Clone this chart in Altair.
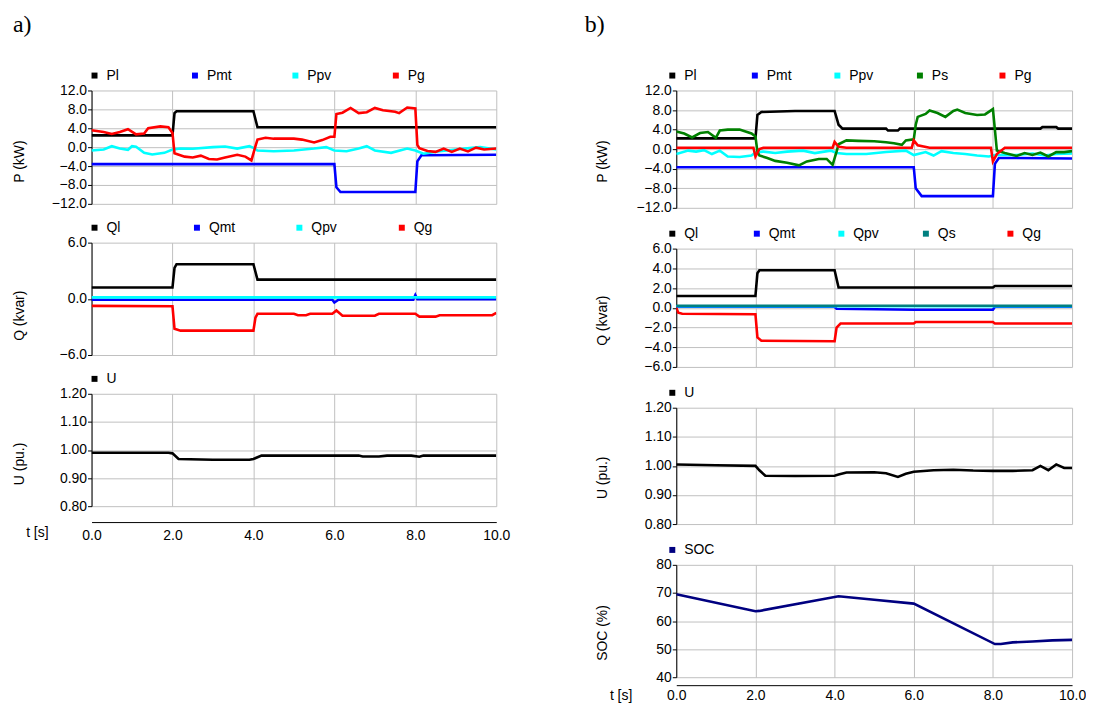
import altair as alt
import pandas as pd

FONT = "Liberation Sans"
XTICKS = [0, 2, 4, 6, 8, 10]

# ---------------- a) left column ----------------
a_Pl_t = [0, 2.0, 2.05, 2.1, 4.0, 4.1, 10]
a_Pl_v = [2.5, 2.5, 7.2, 7.6, 7.6, 4.2, 4.2]
a_Pmt_t = [0, 6.0, 6.05, 6.15, 8.0, 8.05, 8.15, 10]
a_Pmt_v = [-3.6, -3.6, -8.5, -9.5, -9.5, -3.0, -1.7, -1.6]
a_Ppv_t = [0, 0.3, 0.5, 0.7, 0.9, 1.0, 1.1, 1.3, 1.5, 1.8, 2.0, 2.2, 2.5, 3.0, 3.3, 3.6, 3.9, 4.0, 4.1,
           4.5, 5.0, 5.5, 5.8, 6.0, 6.3, 6.6, 6.8, 7.0, 7.4, 7.8, 8.0, 8.2, 8.6, 9.0, 9.4, 9.6, 10]
a_Ppv_v = [-0.7, -0.5, 0.2, -0.3, -0.55, 0.2, 0.1, -1.2, -1.55, -1.2, -0.5, -0.3, -0.35, 0.0, 0.15, -0.3, 0.2,
           -0.15, -0.7, -0.85, -0.7, -0.3, 0.0, -0.7, -0.85, -0.3, 0.2, -0.7, -1.2, -0.3, -0.7, -1.4, -0.85,
           -0.5, -0.15, 0.0, -0.5]
a_Pg_t = [0, 0.3, 0.5, 0.7, 0.9, 1.1, 1.3, 1.4, 1.7, 1.9, 2.0, 2.05, 2.3, 2.5, 2.7, 2.9, 3.1, 3.3, 3.6, 3.8,
          3.95, 4.05, 4.1, 4.3, 4.5, 5.0, 5.2, 5.5, 5.7, 5.9, 6.0, 6.05, 6.2, 6.4, 6.6, 6.8, 7.0, 7.2, 7.5,
          7.6, 7.8, 8.0, 8.05, 8.1, 8.3, 8.5, 8.7, 8.9, 9.1, 9.3, 9.5, 9.7, 10]
a_Pg_v = [3.6, 3.2, 2.8, 3.2, 3.8, 2.7, 2.9, 4.0, 4.4, 4.2, 3.0, -1.3, -2.0, -2.2, -1.8, -2.5, -2.6, -2.2,
          -1.6, -2.0, -2.8, 0.2, 1.6, 2.0, 1.8, 1.8, 1.6, 1.0, 1.5, 2.2, 2.2, 7.0, 7.3, 8.3, 7.2, 7.4, 8.3,
          7.8, 7.5, 7.2, 8.4, 8.2, 0.5, -0.2, -0.8, -1.0, -0.3, -1.0, -0.3, -0.9, -0.1, -0.5, -0.3]

a_Ql_t = [0, 2.0, 2.05, 2.1, 4.0, 4.1, 10]
a_Ql_v = [1.2, 1.2, 3.3, 3.7, 3.7, 2.05, 2.05]
a_Qmt_t = [0, 5.95, 6.0, 6.1, 7.95, 8.0, 8.05, 10]
a_Qmt_v = [-0.1, -0.1, -0.4, -0.1, -0.1, 0.4, -0.05, -0.05]
a_Qpv_t = [0, 10]
a_Qpv_v = [0.15, 0.15]
a_Qg_t = [0, 2.0, 2.05, 2.2, 4.0, 4.05, 4.1, 5.0, 5.1, 5.3, 5.4, 5.95, 6.05, 6.2, 7.0, 7.1, 8.0, 8.1, 8.5,
          8.6, 9.9, 10]
a_Qg_v = [-0.75, -0.8, -3.2, -3.4, -3.4, -2.0, -1.6, -1.6, -1.75, -1.75, -1.6, -1.6, -1.25, -1.8, -1.8,
          -1.6, -1.6, -1.9, -1.9, -1.75, -1.75, -1.5]

a_U_t = [0, 1.9, 2.0, 2.15, 3.0, 3.9, 4.0, 4.2, 6.6, 6.7, 7.1, 7.3, 7.9, 8.1, 8.2, 10]
a_U_v = [0.99, 0.99, 0.988, 0.968, 0.965, 0.965, 0.968, 0.98, 0.98, 0.977, 0.977, 0.98, 0.98, 0.976,
         0.98, 0.98]

# ---------------- b) right column ----------------
b_Pl_t = [0, 2.0, 2.05, 2.15, 3.0, 4.0, 4.1, 4.2, 5.3, 5.35, 5.6, 5.65, 9.2, 9.25, 9.6, 9.65, 10]
b_Pl_v = [2.2, 2.2, 7.0, 7.6, 7.8, 7.8, 5.0, 4.2, 4.2, 3.8, 3.8, 4.2, 4.2, 4.5, 4.5, 4.2, 4.2]
b_Pmt_t = [0, 6.0, 6.05, 6.2, 8.0, 8.05, 8.15, 10]
b_Pmt_v = [-3.7, -3.7, -8.0, -9.6, -9.6, -3.0, -1.8, -1.9]
b_Ppv_t = [0, 0.3, 0.5, 0.7, 0.9, 1.1, 1.3, 1.6, 1.9, 2.0, 2.2, 2.5, 2.8, 3.2, 3.5, 3.9, 4.05, 4.3, 4.8,
           5.3, 5.8, 6.0, 6.3, 6.5, 6.7, 7.0, 7.3, 7.6, 7.9, 8.05, 8.2, 8.6, 9.0, 9.3, 9.6, 10]
b_Ppv_v = [-1.0, -0.3, -0.5, -0.2, -1.0, -0.3, -1.5, -1.6, -1.3, -0.7, -0.5, -0.8, -0.5, -0.3, -0.8,
           -0.3, -0.8, -1.0, -1.0, -0.6, -0.3, -1.2, -0.6, -1.3, -0.4, -0.8, -1.0, -1.3, -1.5, -1.2,
           -1.2, -1.2, -0.9, -1.3, -1.0, -0.9]
b_Ps_t = [0, 0.2, 0.4, 0.6, 0.8, 1.0, 1.1, 1.3, 1.6, 1.9, 2.0, 2.05, 2.1, 2.3, 2.5, 2.8, 3.1, 3.3, 3.6,
          3.8, 3.95, 4.05, 4.1, 4.3, 4.6, 5.0, 5.3, 5.5, 5.7, 5.8, 6.0, 6.05, 6.1, 6.3, 6.4, 6.6, 6.8,
          7.0, 7.1, 7.3, 7.6, 7.8, 8.0, 8.05, 8.1, 8.3, 8.6, 8.8, 9.0, 9.2, 9.4, 9.6, 9.8, 10]
b_Ps_v = [3.6, 3.2, 2.4, 3.3, 3.5, 2.3, 3.8, 4.0, 4.0, 3.2, 2.6, -0.5, -1.3, -1.8, -2.4, -2.8, -3.3,
          -2.5, -2.0, -2.0, -3.2, -0.5, 1.0, 1.8, 1.7, 1.6, 1.4, 1.2, 0.9, 1.8, 2.0, 5.0, 6.6, 7.2, 7.9,
          7.4, 6.6, 7.8, 8.1, 7.4, 7.0, 7.1, 8.2, 4.0, -0.3, -0.8, -1.4, -0.8, -1.2, -0.7, -1.5, -0.6,
          -0.6, -0.4]
b_Pg_t = [0, 1.95, 2.0, 2.1, 2.2, 3.95, 4.0, 4.1, 4.3, 5.95, 6.0, 6.1, 6.4, 7.95, 8.0, 8.1, 8.3, 10]
b_Pg_v = [0.3, 0.3, -1.5, 0.0, 0.3, 0.3, 1.5, 0.5, 0.3, 0.3, 1.8, 0.8, 0.3, 0.3, -2.5, -1.0, 0.3, 0.3]

b_Ql_t = [0, 2.0, 2.05, 2.1, 4.0, 4.1, 8.0, 8.05, 10]
b_Ql_v = [1.2, 1.2, 3.5, 3.8, 3.8, 2.05, 2.05, 2.2, 2.2]
b_Qmt_t = [0, 4.0, 4.05, 6.0, 8.0, 8.05, 10]
b_Qmt_v = [0.1, 0.1, -0.1, -0.2, -0.2, 0.1, 0.1]
b_Qpv_t = [0, 10]
b_Qpv_v = [0.15, 0.15]
b_Qs_t = [0, 10]
b_Qs_v = [0.2, 0.2]
b_Qg_t = [0, 0.05, 0.15, 2.0, 2.05, 2.15, 4.0, 4.05, 4.15, 6.0, 6.05, 8.0, 8.05, 10]
b_Qg_v = [0.0, -0.5, -0.6, -0.65, -3.0, -3.35, -3.4, -2.0, -1.6, -1.6, -1.45, -1.45, -1.6, -1.6]

b_U_t = [0, 1.0, 2.0, 2.1, 2.25, 3.0, 4.0, 4.1, 4.3, 5.0, 5.3, 5.6, 5.8, 6.0, 6.5, 7.0, 7.5, 8.0, 8.5,
         9.0, 9.2, 9.4, 9.6, 9.8, 10]
b_U_v = [1.005, 1.002, 1.0, 0.985, 0.966, 0.965, 0.966, 0.97, 0.977, 0.978, 0.975, 0.962, 0.973, 0.98,
         0.985, 0.987, 0.984, 0.983, 0.983, 0.985, 1.0, 0.985, 1.005, 0.993, 0.993]

b_SOC_t = [0, 2.0, 2.1, 4.1, 5.0, 6.0, 8.05, 8.2, 8.5, 9.0, 9.5, 10]
b_SOC_v = [69.5, 63.5, 63.6, 68.8, 67.6, 66.2, 51.8, 51.8, 52.4, 52.7, 53.1, 53.3]

BLACK, BLUE, CYAN, GREEN, RED, TEAL, NAVY = ("#000000", "#0000ff", "#00ffff", "#008000",
                                             "#ff0000", "#008080", "#000080")


def series_df(items):
    rows = []
    for name, ts, vs in items:
        for t, v in zip(ts, vs):
            rows.append({"t": t, "v": v, "s": name})
    return pd.DataFrame(rows)


def panel(items, colors, ydom, yvals, yfmt, ytitle, w, h, ytx, yty, col_pad, lx, bottom=None):
    names = [n for n, _, _ in items]
    df = series_df(items)
    if bottom is None:
        xaxis = alt.Axis(values=XTICKS, grid=True, labels=False, ticks=False, domain=False, title=None)
    else:
        xaxis = alt.Axis(values=XTICKS, grid=True, format=".1f", labelFlush=False, ticks=False,
                         domain=True, domainColor="black", offset=bottom[0], labelPadding=bottom[1],
                         labelBaseline="top", title="t [s]", titleX=bottom[2], titleY=bottom[3],
                         titleAngle=0, titleAlign="center", titleBaseline="middle")
    yaxis = alt.Axis(values=yvals, format=yfmt, grid=True, tickSize=4, labelPadding=1,
                     title=ytitle, titleX=ytx, titleY=yty, titleAngle=270, titleAlign="center",
                     titleBaseline="middle")
    legend = alt.Legend(orient="none", legendX=lx, legendY=-22, direction="horizontal",
                        columns=len(names), gridAlign="all", columnPadding=col_pad,
                        symbolType="square", symbolSize=4, symbolStrokeWidth=4, labelOffset=5,
                        title=None)
    return alt.Chart(df).mark_line(strokeWidth=2.6, clip=True).encode(
        x=alt.X("t:Q", scale=alt.Scale(domain=[0, 10], nice=False, zero=False), axis=xaxis),
        y=alt.Y("v:Q", scale=alt.Scale(domain=ydom, nice=False, zero=False), axis=yaxis),
        color=alt.Color("s:N", scale=alt.Scale(domain=names, range=colors), legend=legend,
                        sort=names),
    ).properties(width=w, height=h)


AW = 407
aP = panel([("Pl", a_Pl_t, a_Pl_v), ("Pmt", a_Pmt_t, a_Pmt_v), ("Ppv", a_Ppv_t, a_Ppv_v),
            ("Pg", a_Pg_t, a_Pg_v)], [BLACK, BLUE, CYAN, RED], [-12, 12],
           [-12, -8, -4, 0, 4, 8, 12], ".1f", "P  (kW)", AW, 114, -72, 57 + 14, 55, -4)
aQ = panel([("Ql", a_Ql_t, a_Ql_v), ("Qmt", a_Qmt_t, a_Qmt_v), ("Qpv", a_Qpv_t, a_Qpv_v),
            ("Qg", a_Qg_t, a_Qg_v)], [BLACK, BLUE, CYAN, RED], [-6, 6],
           [-6, 0, 6], ".1f", "Q  (kvar)", AW, 113, -72, 56 + 17, 55, -4)
aU = panel([("U", a_U_t, a_U_v)], [BLACK], [0.8, 1.2],
           [0.8, 0.9, 1.0, 1.1, 1.2], ".2f", "U (pu.)", AW, 113, -72, 56 + 14, 55, -4,
           bottom=(16, 7, -55, 11))

BW = 398
bP = panel([("Pl", b_Pl_t, b_Pl_v), ("Pmt", b_Pmt_t, b_Pmt_v), ("Ppv", b_Ppv_t, b_Ppv_v),
            ("Ps", b_Ps_t, b_Ps_v), ("Pg", b_Pg_t, b_Pg_v)], [BLACK, BLUE, CYAN, GREEN, RED],
           [-12, 12], [-12, -8, -4, 0, 4, 8, 12], ".1f", "P  (kW)", BW, 118, -74, 59 + 12, 37, -11)
bQ = panel([("Ql", b_Ql_t, b_Ql_v), ("Qmt", b_Qmt_t, b_Qmt_v), ("Qpv", b_Qpv_t, b_Qpv_v),
            ("Qs", b_Qs_t, b_Qs_v), ("Qg", b_Qg_t, b_Qg_v)], [BLACK, BLUE, CYAN, TEAL, RED],
           [-6, 6], [-6, -4, -2, 0, 2, 4, 6], ".1f", "Q  (kvar)", BW, 119, -74, 60 + 12, 37, -11)
bU = panel([("U", b_U_t, b_U_v)], [BLACK], [0.8, 1.2],
           [0.8, 0.9, 1.0, 1.1, 1.2], ".2f", "U (pu.)", BW, 117, -74, 58 + 12, 37, -11)
bS = panel([("SOC", b_SOC_t, b_SOC_v)], [NAVY], [40, 80],
           [40, 50, 60, 70, 80], "d", "SOC  (%)", BW, 113, -74, 56 + 12, 37, -11,
           bottom=(8, 3, -56, 10))

colA = alt.vconcat(aP, aQ, aU, spacing=39, bounds="flush",
                   title=alt.TitleParams("a)", anchor="start", offset=32)
                   ).resolve_scale(color="independent").resolve_legend(color="independent")
colB = alt.vconcat(bP, bQ, bU, bS, spacing=41, bounds="flush",
                   title=alt.TitleParams("b)", anchor="start", offset=32, dx=-11)
                   ).resolve_scale(color="independent").resolve_legend(color="independent")

chart = alt.hconcat(colA, colB, spacing=75).resolve_scale(color="independent").resolve_legend(
    color="independent"
).properties(
    padding={"left": 5, "top": 3, "right": 0, "bottom": 0}
).configure_view(stroke=None).configure_axis(
    labelFont=FONT, titleFont=FONT, labelFontSize=14, titleFontSize=14, labelColor="black",
    titleColor="black", gridColor="#c0c0c0", gridWidth=1, gridOpacity=1, titleFontWeight="normal",
    domainColor="black", tickColor="black", domainWidth=1,
).configure_legend(labelFont=FONT, labelFontSize=14, labelColor="black").configure_title(
    font="Liberation Serif", fontSize=24, fontWeight="normal", color="black"
)

chart.save("out.html", embed_options={"renderer": "svg", "actions": False})
